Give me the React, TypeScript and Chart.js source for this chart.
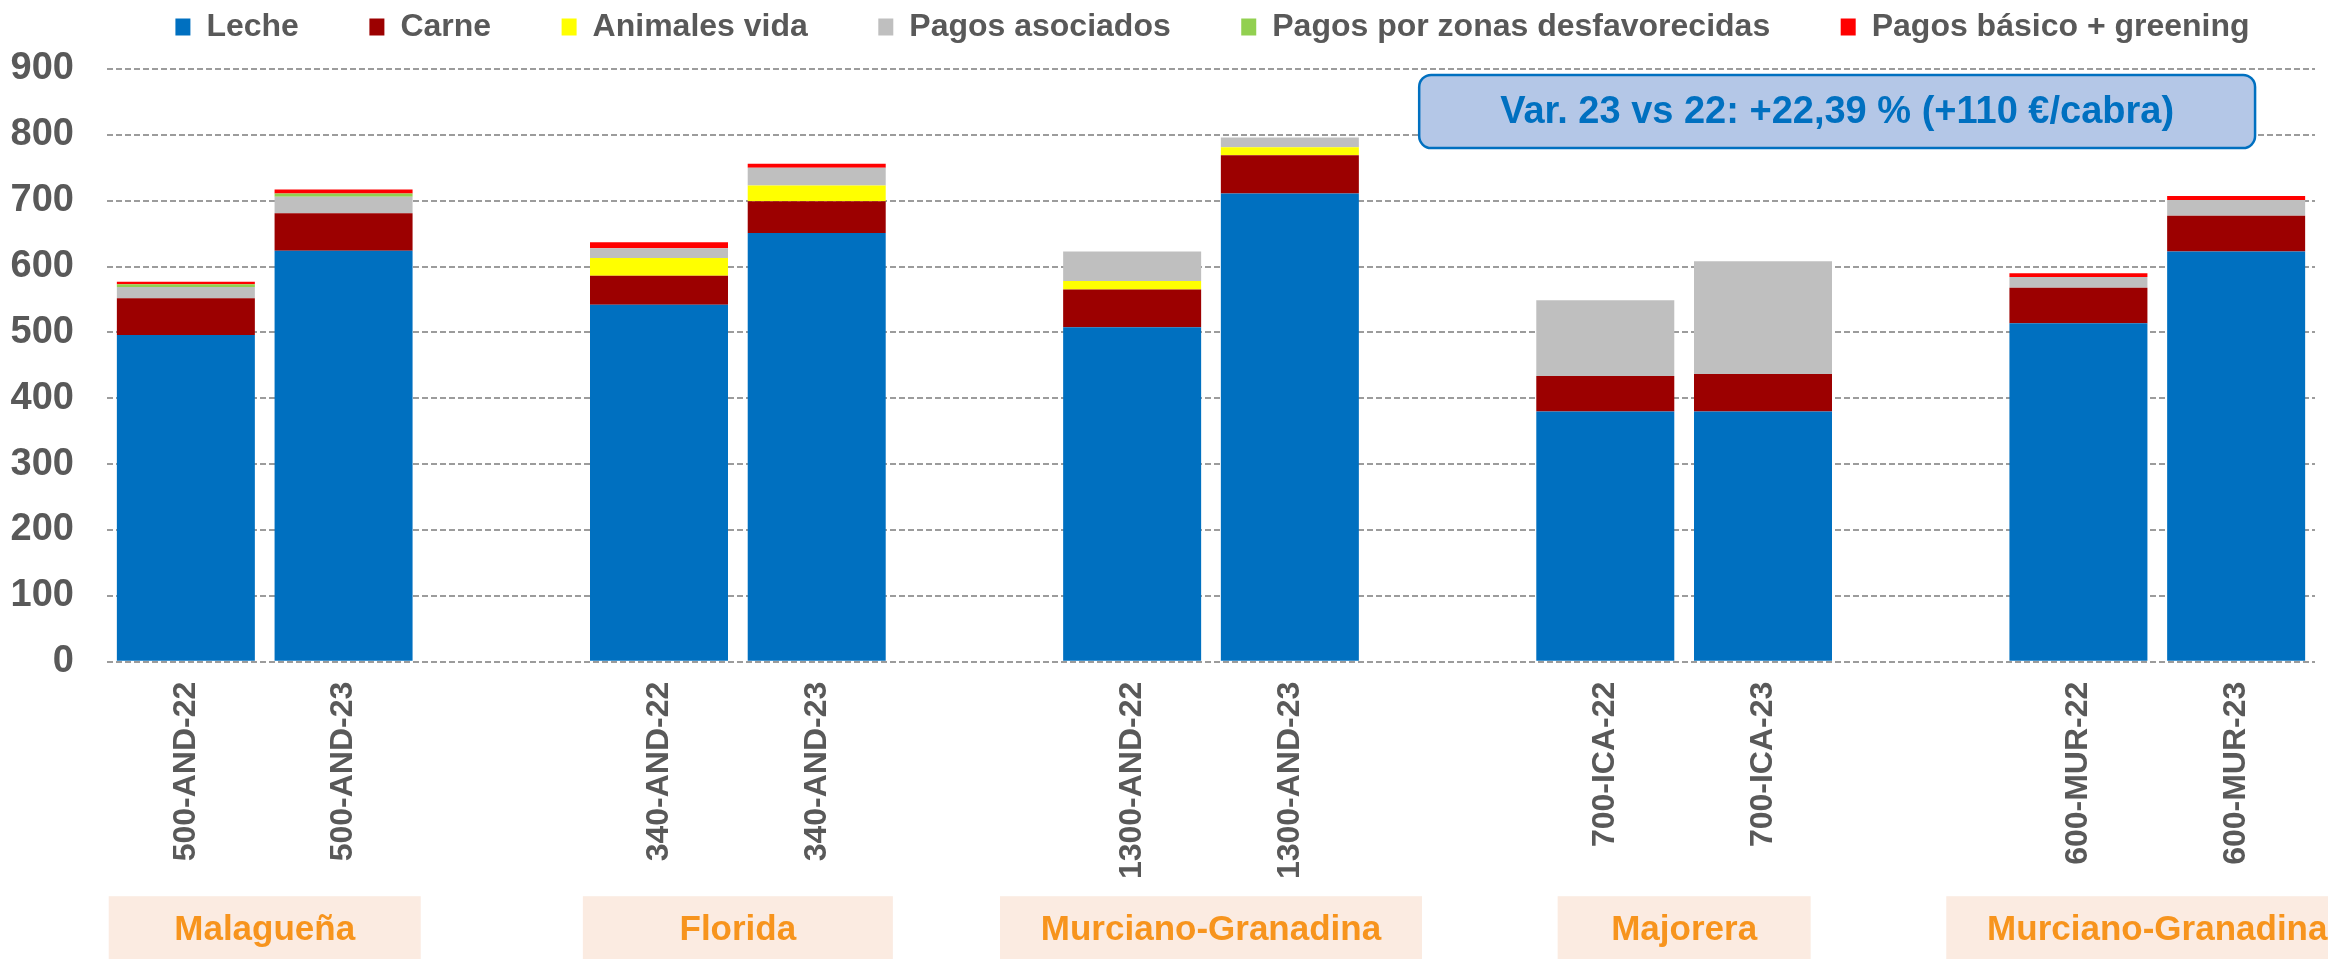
import React, { useEffect, useRef } from 'react';
import { Chart, registerables } from 'chart.js';

Chart.register(...registerables);

// ---- data ----
const categories = [
  '500-AND-22', '500-AND-23', '',
  '340-AND-22', '340-AND-23', '',
  '1300-AND-22', '1300-AND-23', '',
  '700-ICA-22', '700-ICA-23', '',
  '600-MUR-22', '600-MUR-23',
];
const leche = [496, 624, null, 542, 651, null, 508, 711, null, 380, 380, null, 514, 623];
const carne = [56, 57, null, 44, 48, null, 57, 58, null, 54, 57, null, 54, 54];
const animalesVida = [0, 0, null, 27, 24, null, 13, 12, null, 0, 0, null, 0, 0];
const pagosAsociados = [17, 25, null, 15, 27, null, 45, 15, null, 115, 171, null, 16, 24];
const pagosZonas = [4, 5, null, 0, 0, null, 0, 0, null, 0, 0, null, 0, 0];
const pagosBasico = [4, 6, null, 9, 6, null, 0, 0, null, 0, 0, null, 6, 6];

const seriesNames = [
  'Leche', 'Carne', 'Animales vida', 'Pagos asociados',
  'Pagos por zonas desfavorecidas', 'Pagos básico + greening',
];
const seriesColors = ['#0070C0', '#9C0000', '#FFFF00', '#BFBFBF', '#92D050', '#FF0000'];

const groupNames = ['Malagueña', 'Florida', 'Murciano-Granadina', 'Majorera', 'Murciano-Granadina'];
const groupStart = [0, 3, 6, 9, 12];
const groupBoxWidths = [312, 310, 422, 253, 422];

const annotationText = 'Var. 23 vs 22: +22,39 % (+110 €/cabra)';

const FONT = "'Liberation Sans', Arial, sans-serif";
const GRAY = '#595959';

const overlayPlugin = {
  id: 'overlay',
  afterLayout(chart: any) {
    if (chart.legend) {
      chart.legend.left += 55;
      chart.legend.right += 55;
    }
  },
  afterDraw(chart: any) {
    const { ctx, chartArea } = chart;
    const xs = chart.scales.x;
    const ys = chart.scales.y;
    ctx.save();
    // annotation box
    const ax1 = xs.getPixelForValue(7.82);
    const ax2 = xs.getPixelForValue(13.12);
    const ay1 = ys.getPixelForValue(891);
    const ay2 = ys.getPixelForValue(780);
    ctx.beginPath();
    ctx.roundRect(ax1, ay1, ax2 - ax1, ay2 - ay1, 12);
    ctx.fillStyle = '#B4C7E7';
    ctx.fill();
    ctx.lineWidth = 2.5;
    ctx.strokeStyle = '#0070C0';
    ctx.stroke();
    ctx.fillStyle = '#0070C0';
    ctx.font = `bold 38px ${FONT}`;
    ctx.textAlign = 'center';
    ctx.textBaseline = 'middle';
    ctx.fillText(annotationText, (ax1 + ax2) / 2, (ay1 + ay2) / 2 + 1);

    // group label boxes
    const top = chartArea.bottom + 234.5;
    groupNames.forEach((name, i) => {
      const cx = xs.getPixelForValue(groupStart[i] + 0.5);
      const w = groupBoxWidths[i];
      ctx.fillStyle = '#FBEBE1';
      ctx.fillRect(cx - w / 2, top, w, 80);
      ctx.fillStyle = '#F7941D';
      ctx.font = `bold 35px ${FONT}`;
      ctx.textAlign = 'center';
      ctx.textBaseline = 'middle';
      ctx.fillText(name, cx, top + 34);
    });
    ctx.restore();
  },
};

export default function App() {
  const canvasRef = useRef<HTMLCanvasElement | null>(null);

  useEffect(() => {
    const prevMargin = document.body.style.margin;
    document.body.style.margin = '0';
    const dataArrays = [leche, carne, animalesVida, pagosAsociados, pagosZonas, pagosBasico];
    const chart = new Chart(canvasRef.current as HTMLCanvasElement, {
      type: 'bar',
      data: {
        labels: categories,
        datasets: dataArrays.map((d, i) => ({
          label: seriesNames[i],
          data: d,
          backgroundColor: seriesColors[i],
          borderWidth: 0,
          barPercentage: 0.875,
          categoryPercentage: 1.0,
        })),
      },
      options: {
        animation: false,
        responsive: true,
        maintainAspectRatio: false,
        events: [],
        layout: { padding: { top: -59.5, left: 0, right: 13, bottom: 0 } },
        plugins: {
          legend: {
            position: 'top',
            weight: 3000,
            labels: {
              boxWidth: 15,
              boxHeight: 17,
              padding: 70.5,
              color: GRAY,
              font: { family: FONT, size: 32, weight: 'bold' },
            },
          },
          title: {
            display: true,
            text: '',
            padding: 0,
            font: { size: 16, lineHeight: 1 },
          },
          tooltip: { enabled: false },
        },
        scales: {
          x: {
            stacked: true,
            grid: { display: false },
            border: { display: false },
            ticks: {
              autoSkip: false,
              maxRotation: 90,
              minRotation: 90,
              padding: 12,
              color: GRAY,
              font: { family: "'Liberation Sans Narrow', 'Liberation Sans', Arial, sans-serif", size: 32, weight: 'bold' },
            },
            afterFit: (scale: any) => {
              scale.height = 297.3;
            },
          },
          y: {
            stacked: true,
            min: 0,
            max: 900,
            grid: { color: '#9C9C9C', lineWidth: 2, drawTicks: false },
            border: { display: false, dash: [6, 3] },
            ticks: {
              stepSize: 100,
              padding: 33,
              color: GRAY,
              font: { family: FONT, size: 38, weight: 'bold' },
            },
            afterFit: (scale: any) => {
              scale.width = 107;
            },
          },
        },
      },
      plugins: [overlayPlugin],
    } as any);
    return () => {
      chart.destroy();
      document.body.style.margin = prevMargin;
    };
  }, []);

  return (
    <div style={{ position: 'fixed', left: 0, top: 0, width: 2328, height: 959, background: '#fff' }}>
      <canvas ref={canvasRef} />
    </div>
  );
}
